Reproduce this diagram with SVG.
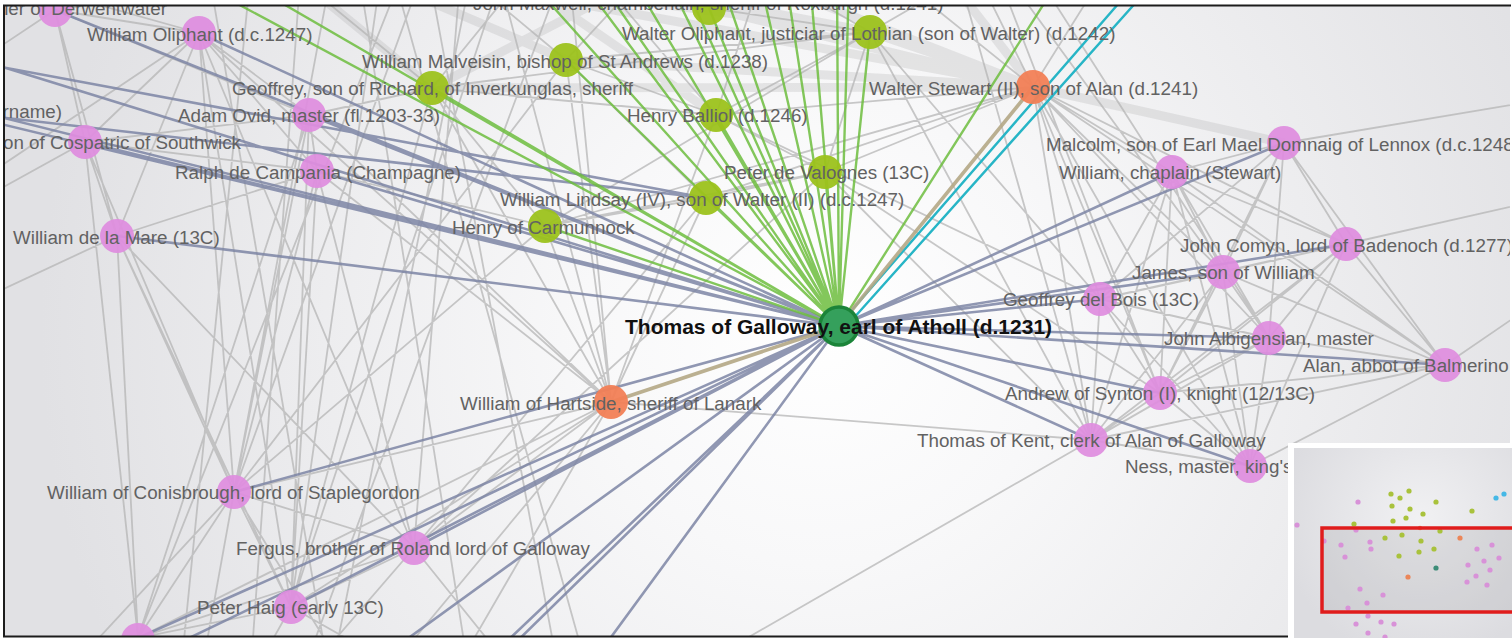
<svg xmlns="http://www.w3.org/2000/svg" width="1512" height="638" viewBox="0 0 1512 638">
<defs>
  <radialGradient id="bg" cx="820" cy="330" r="780" gradientUnits="userSpaceOnUse">
    <stop offset="0" stop-color="#ffffff"/>
    <stop offset="0.3" stop-color="#f8f8f9"/>
    <stop offset="1" stop-color="#e1e1e4"/>
  </radialGradient>
  <radialGradient id="mmbg" cx="1420" cy="520" r="140" gradientUnits="userSpaceOnUse">
    <stop offset="0" stop-color="#f1f1f3"/>
    <stop offset="1" stop-color="#dcdce0"/>
  </radialGradient>
  <clipPath id="frame"><rect x="4" y="6" width="1506" height="630"/></clipPath>
  <clipPath id="mmclip"><rect x="1294" y="448" width="218" height="190"/></clipPath>
</defs>
<style>
  .g{fill:none;stroke:#b3b3b3;stroke-opacity:.72;stroke-width:1.8}
  .band{fill:none;stroke:#9e9e9e;stroke-opacity:.22;stroke-width:9}
  .b{fill:none;stroke:#7c85a5;stroke-opacity:.85;stroke-width:2.6}
  .gr{fill:none;stroke:#6dbd3e;stroke-opacity:.85;stroke-width:2.4}
  .cy{fill:none;stroke:#27b5c6;stroke-width:2.4}
  .tan{fill:none;stroke:#b4a785;stroke-opacity:.9;stroke-width:3.6}
  .pk{fill:#df8ddf;fill-opacity:.93}
  .gn{fill:#9cc21c;fill-opacity:.95}
  .or{fill:#f27f56;fill-opacity:.95}
  .l{font-family:"Liberation Sans",Arial,sans-serif;font-size:18.8px;fill:#626262;dominant-baseline:central}
  .main{font-family:"Liberation Sans",Arial,sans-serif;font-size:21px;font-weight:bold;fill:#111;dominant-baseline:central}
  .d{stroke:none}
</style>

<rect width="1512" height="638" fill="#ffffff"/>
<g clip-path="url(#frame)">
  <rect x="0" y="0" width="1512" height="638" fill="url(#bg)"/>

  <g id="connectors">
    <!-- wide translucent bundles among the upper cluster -->
    <path class="band" d="M566 60L1033 87M432 88L1033 87M870 32L1033 87M709 8L1033 87M1033 87L1284 143M450 -20L1033 87M600 -20L870 32M380 -20L566 60M760 -20L1033 87M300 -20L432 88M480 -20L870 32M520 -20L716 115M950 -20L1033 87M640 -20L432 88"/>

    <!-- ordinary relations -->
    <path class="g" d="
      M55 10L85 142M55 10L117 236M55 10L199 33M55 10L309 115M55 10L-20 60M55 10L260 -20
      M199 33L85 142M199 33L117 236M199 33L309 115M199 33L317 171M199 33L234 492M199 33L414 548M199 33L291 607M199 33L611 402M199 33L10 -20M199 33L-20 180
      M309 115L317 171M309 115L85 142M309 115L234 492M309 115L291 607M309 115L138 638M309 115L611 402M309 115L432 88
      M317 171L85 142M317 171L117 236M317 171L234 492M317 171L414 548M317 171L291 607M317 171L611 402M317 171L545 226
      M85 142L117 236M85 142L234 492M85 142L138 638M85 142L-20 200
      M117 236L234 492M117 236L138 638M117 236L291 607M117 236L414 548M117 236L-20 300
      M234 492L414 548M234 492L291 607M234 492L138 638M234 492L611 402M234 492L420 -20M234 492L330 -20M234 492L60 680M234 492L200 680M234 492L350 680
      M414 548L291 607M414 548L138 638M414 548L611 402M414 548L460 -20M414 548L300 680M414 548L520 680
      M291 607L138 638M291 607L611 402M291 607L500 -20M291 607L380 -20M291 607L250 680M291 607L420 680
      M138 638L611 402M138 638L400 -20
      M210 -20L330 680M300 -20L250 680M360 -20L470 680M470 -20L330 680M395 -20L590 680M560 -20L300 680M250 -20L180 680M430 -20L560 680
      M566 60L870 32M432 88L870 32M716 115L870 32M566 60L716 115M432 88L716 115M709 8L870 32M545 226L706 198M545 226L825 172M706 198L825 172M716 115L825 172M545 226L432 88M706 198L566 60M545 226L870 32M825 172L870 32
      M716 115L1033 87M825 172L1033 87M706 198L1033 87M545 226L1033 87
      M432 88L300 -20M432 88L520 -20M566 60L640 -20M566 60L470 -20M716 115L760 -20M716 115L600 -20M870 32L960 -20M870 32L780 -20M1033 87L980 -20M1033 87L900 -20M1033 87L1100 -20
      M545 226L234 492M706 198L414 548M432 88L291 607M566 60L234 492M825 172L414 548
      M611 402L545 226M611 402L706 198M611 402L432 88M611 402L716 115M611 402L566 60M611 402L500 -20M611 402L570 -20M611 402L450 680M611 402L380 680M611 402L1091 440
      M1033 87L1172 172M1033 87L1346 244M1033 87L1223 272M1033 87L1100 299M1033 87L1269 338M1033 87L1445 365M1033 87L1160 393M1033 87L1091 440M1033 87L1250 466
      M1284 143L1172 172M1284 143L1346 244M1284 143L1223 272M1284 143L1100 299M1284 143L1269 338M1284 143L1160 393M1284 143L1445 365
      M1172 172L1346 244M1172 172L1223 272M1172 172L1100 299M1172 172L1269 338M1172 172L1160 393M1172 172L1091 440M1172 172L1250 466M1172 172L1445 365
      M1346 244L1223 272M1346 244L1100 299M1346 244L1269 338M1346 244L1445 365M1346 244L1160 393M1346 244L1091 440M1346 244L1250 466
      M1223 272L1100 299M1223 272L1269 338M1223 272L1160 393M1223 272L1091 440M1223 272L1250 466M1223 272L1445 365
      M1100 299L1269 338M1100 299L1160 393M1100 299L1091 440M1100 299L1250 466
      M1269 338L1445 365M1269 338L1160 393M1269 338L1091 440M1269 338L1250 466
      M1445 365L1160 393M1445 365L1091 440M1445 365L1250 466M1160 393L1091 440M1160 393L1250 466M1091 440L1250 466
      M1100 299L870 32M1091 440L870 32M1160 393L825 172M1100 299L716 115M1091 440L960 -20M1160 393L1000 -20M1223 272L1010 -20M1269 338L1040 -20M1091 440L825 172
      M1269 338L735 645M1445 365L1540 300M1346 244L1540 200M1284 143L1540 100"/>

    <!-- links of the selected person -->
    <path class="b" d="
      M839 326L55 10M839 326L199 33M839 326L-20 60M839 326L-20 112M839 326L-20 119M839 326L85 142M839 326L309 115M839 326L317 171M839 326L117 236
      M839 326L234 492M839 326L414 548M839 326L291 607M839 326L138 638M839 326L60 700M839 326L323 700M839 326L445 700M839 326L457 700M839 326L565 700
      M839 326L1284 143M839 326L1172 172M839 326L1346 244M839 326L1223 272M839 326L1100 299M839 326L1269 338M839 326L1445 365M839 326L1160 393M839 326L1091 440M839 326L1250 466
      M-20 63L706 198M-20 115L706 198"/>
    <path class="gr" d="
      M839 326L709 8M839 326L870 32M839 326L566 60M839 326L432 88M839 326L716 115M839 326L825 172M839 326L706 198M839 326L545 226
      M839 326L193 -20M839 326L242 -20M839 326L529 -20M839 326L581 -20M839 326L599 -20M839 326L633 -20M839 326L668 -20M839 326L683 -20M839 326L721 -20M839 326L760 -20M839 326L786 -20M839 326L810 -20M839 326L837 -20M839 326L849 -20M839 326L1059 -20"/>
    <path class="cy" d="M845 318L1139 -20M852 320L1156 -20"/>
    <path class="tan" d="M839 326L1033 87M839 326L611 402"/>
  </g>

  <!-- people -->
  <g id="n-derwentwater"><circle class="pk" cx="55" cy="10" r="17"/><text class="l" x="167" y="8" text-anchor="end">ler of Derwentwater</text></g>
  <g id="n-william-oliphant"><circle class="pk" cx="199" cy="33" r="17"/><text class="l" x="87" y="34">William Oliphant (d.c.1247)</text></g>
  <g id="n-surname"><text class="l" x="62" y="111" text-anchor="end">rname)</text></g>
  <g id="n-cospatric"><circle class="pk" cx="85" cy="142" r="17"/><text class="l" x="241" y="142" text-anchor="end">on of Cospatric of Southwick</text></g>
  <g id="n-adam-ovid"><circle class="pk" cx="309" cy="115" r="17"/><text class="l" x="178" y="115">Adam Ovid, master (fl.1203-33)</text></g>
  <g id="n-ralph"><circle class="pk" cx="317" cy="171" r="17"/><text class="l" x="175" y="172">Ralph de Campania (Champagne)</text></g>
  <g id="n-delamare"><circle class="pk" cx="117" cy="236" r="17"/><text class="l" x="13" y="237">William de la Mare (13C)</text></g>
  <g id="n-conisbrough"><circle class="pk" cx="234" cy="492" r="17"/><text class="l" x="47" y="492">William of Conisbrough, lord of Staplegordon</text></g>
  <g id="n-fergus"><circle class="pk" cx="414" cy="548" r="17"/><text class="l" x="236" y="548">Fergus, brother of Roland lord of Galloway</text></g>
  <g id="n-peter-haig"><circle class="pk" cx="291" cy="607" r="17"/><text class="l" x="197" y="607">Peter Haig (early 13C)</text></g>
  <g id="n-bottom"><circle class="pk" cx="138" cy="640" r="17"/></g>

  <g id="n-maxwell"><circle class="gn" cx="709" cy="8" r="17"/><text class="l" x="473" y="3">John Maxwell, chamberlain, sheriff of Roxburgh (d.1241)</text></g>
  <g id="n-walter-oliphant"><circle class="gn" cx="870" cy="32" r="17"/><text class="l" x="622" y="33">Walter Oliphant, justiciar of Lothian (son of Walter) (d.1242)</text></g>
  <g id="n-malveisin"><circle class="gn" cx="566" cy="60" r="17"/><text class="l" x="362" y="61">William Malveisin, bishop of St Andrews (d.1238)</text></g>
  <g id="n-geoffrey"><circle class="gn" cx="432" cy="88" r="17"/><text class="l" x="232" y="88">Geoffrey, son of Richard, of Inverkunglas, sheriff</text></g>
  <g id="n-henry-balliol"><circle class="gn" cx="716" cy="115" r="17"/><text class="l" x="627" y="115">Henry Balliol (d.1246)</text></g>
  <g id="n-valognes"><circle class="gn" cx="825" cy="172" r="17"/><text class="l" x="724" y="172">Peter de Valognes (13C)</text></g>
  <g id="n-lindsay"><circle class="gn" cx="706" cy="198" r="17"/><text class="l" x="500" y="199">William Lindsay (IV), son of Walter (II) (d.c.1247)</text></g>
  <g id="n-carmunnock"><circle class="gn" cx="545" cy="226" r="17"/><text class="l" x="452" y="227">Henry of Carmunnock</text></g>

  <g id="n-walter-stewart"><circle class="or" cx="1033" cy="87" r="17"/><text class="l" x="869" y="88">Walter Stewart (II), son of Alan (d.1241)</text></g>
  <g id="n-hartside"><circle class="or" cx="611" cy="402" r="17"/><text class="l" x="460" y="403">William of Hartside, sheriff of Lanark</text></g>

  <g id="n-malcolm"><circle class="pk" cx="1284" cy="143" r="17"/><text class="l" x="1046" y="144">Malcolm, son of Earl Mael Domnaig of Lennox (d.c.1248)</text></g>
  <g id="n-chaplain"><circle class="pk" cx="1172" cy="172" r="17"/><text class="l" x="1059" y="172">William, chaplain (Stewart)</text></g>
  <g id="n-comyn"><circle class="pk" cx="1346" cy="244" r="17"/><text class="l" x="1180" y="245">John Comyn, lord of Badenoch (d.1277)</text></g>
  <g id="n-james"><circle class="pk" cx="1223" cy="272" r="17"/><text class="l" x="1132" y="272">James, son of William</text></g>
  <g id="n-delbois"><circle class="pk" cx="1100" cy="299" r="17"/><text class="l" x="1003" y="299">Geoffrey del Bois (13C)</text></g>
  <g id="n-albigensian"><circle class="pk" cx="1269" cy="338" r="17"/><text class="l" x="1164" y="338">John Albigensian, master</text></g>
  <g id="n-balmerino"><circle class="pk" cx="1445" cy="365" r="17"/><text class="l" x="1303" y="365">Alan, abbot of Balmerino</text></g>
  <g id="n-synton"><circle class="pk" cx="1160" cy="393" r="17"/><text class="l" x="1005" y="393">Andrew of Synton (I), knight (12/13C)</text></g>
  <g id="n-kent"><circle class="pk" cx="1091" cy="440" r="17"/><text class="l" x="917" y="440">Thomas of Kent, clerk of Alan of Galloway</text></g>
  <g id="n-ness"><circle class="pk" cx="1250" cy="466" r="17"/><text class="l" x="1125" y="466">Ness, master, king's</text></g>

  <g id="n-thomas"><circle cx="839" cy="326" r="19" fill="#35a05c" stroke="#1b8439" stroke-width="3.5"/><text class="main" x="625" y="326">Thomas of Galloway, earl of Atholl (d.1231)</text></g>
</g>

<!-- frame -->
<path d="M1511 5.5H4V636.5H1511" fill="none" stroke="#1c1c1c" stroke-width="2"/>

<!-- overview map -->
<g id="overview">
  <rect x="1288" y="443" width="224" height="195" fill="#ffffff"/>
  <rect x="1294" y="448" width="218" height="190" fill="url(#mmbg)"/>
  <g clip-path="url(#mmclip)">
    <rect x="1321" y="528" width="200" height="84" fill="#9a9aa0" fill-opacity=".22"/>
    <g class="d" fill="#a9c23c">
      <circle cx="1391" cy="494" r="2.6"/><circle cx="1409" cy="491" r="2.6"/><circle cx="1400" cy="498" r="2.6"/><circle cx="1392" cy="506" r="2.6"/><circle cx="1410" cy="509" r="2.6"/><circle cx="1436" cy="502" r="2.6"/><circle cx="1423" cy="514" r="2.6"/><circle cx="1406" cy="518" r="2.6"/><circle cx="1393" cy="521" r="2.6"/><circle cx="1472" cy="511" r="2.6"/><circle cx="1354" cy="524" r="2.6"/><circle cx="1385" cy="538" r="2.6"/><circle cx="1402" cy="535" r="2.6"/><circle cx="1421" cy="541" r="2.6"/><circle cx="1419" cy="552" r="2.6"/><circle cx="1434" cy="549" r="2.6"/><circle cx="1399" cy="556" r="2.6"/><circle cx="1440" cy="531" r="2.6"/>
    </g>
    <g class="d" fill="#45b8e6"><circle cx="1496" cy="498" r="2.6"/><circle cx="1504" cy="494" r="2.6"/></g>
    <circle class="d" cx="1436" cy="568" r="2.6" fill="#3c8c78"/>
    <g class="d" fill="#eb8659"><circle cx="1460" cy="538" r="2.6"/><circle cx="1408" cy="577" r="2.6"/><circle cx="1420" cy="528" r="2.2"/></g>
    <g class="d" fill="#d892d8">
      <circle cx="1358" cy="502" r="2.6"/><circle cx="1297" cy="525" r="2.6"/><circle cx="1324" cy="541" r="2.6"/><circle cx="1341" cy="545" r="2.6"/><circle cx="1345" cy="557" r="2.6"/><circle cx="1370" cy="542" r="2.6"/><circle cx="1371" cy="549" r="2.6"/><circle cx="1356" cy="530" r="2.6"/>
      <circle cx="1477" cy="549" r="2.6"/><circle cx="1492" cy="545" r="2.6"/><circle cx="1499" cy="558" r="2.6"/><circle cx="1484" cy="561" r="2.6"/><circle cx="1468" cy="565" r="2.6"/><circle cx="1490" cy="570" r="2.6"/><circle cx="1476" cy="576" r="2.6"/><circle cx="1467" cy="582" r="2.6"/><circle cx="1487" cy="585" r="2.6"/>
      <circle cx="1360" cy="589" r="2.6"/><circle cx="1383" cy="595" r="2.6"/><circle cx="1367" cy="603" r="2.6"/><circle cx="1348" cy="608" r="2.6"/><circle cx="1368" cy="616" r="2.6"/><circle cx="1356" cy="624" r="2.6"/><circle cx="1381" cy="622" r="2.6"/><circle cx="1394" cy="624" r="2.6"/><circle cx="1368" cy="633" r="2.6"/><circle cx="1385" cy="637" r="2.6"/>
    </g>
    <rect x="1322" y="528" width="200" height="84" fill="none" stroke="#e01c1c" stroke-width="3.5"/>
  </g>
</g>
</svg>
